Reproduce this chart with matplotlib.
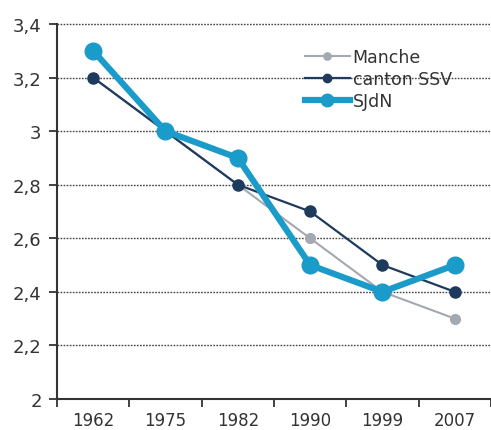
import numpy as np
import matplotlib.pyplot as plt
from matplotlib.ticker import FixedLocator, FuncFormatter

# data
years = ['1962', '1975', '1982', '1990', '1999', '2007']
manche = [3.2, 3.0, 2.8, 2.6, 2.4, 2.3]
canton_ssv = [3.2, 3.0, 2.8, 2.7, 2.5, 2.4]
sjdn = [3.3, 3.0, 2.9, 2.5, 2.4, 2.5]
yticks = [2.0, 2.2, 2.4, 2.6, 2.8, 3.0, 3.2, 3.4]

fig = plt.figure(figsize=(4.91, 4.31), dpi=100)
ax = fig.add_axes([0.116, 0.072, 0.884, 0.870])

x = np.arange(len(years))
ax.plot(x, manche, color='#a3a9b0', lw=1.5, marker='o', ms=7, label='Manche', zorder=3)
ax.plot(x, canton_ssv, color='#1e3a5c', lw=1.6, marker='o', ms=8, label='canton SSV', zorder=4)
ax.plot(x, sjdn, color='#1b9bc9', lw=4.5, marker='o', ms=12, label='SJdN', zorder=5)

ax.set_xlim(-0.5, len(years) - 0.5)
ax.set_ylim(2.0, 3.4)

# dotted gridlines
for v in yticks[1:]:
    ax.axhline(v, color='#444444', lw=1, ls=(0, (1.2, 1)), zorder=1, clip_on=False)

ax.set_yticks(yticks)
ax.yaxis.set_major_formatter(FuncFormatter(lambda v, p: ('%g' % round(v, 1)).replace('.', ',')))
ax.set_xticks(x)
ax.set_xticklabels(years)
ax.xaxis.set_minor_locator(FixedLocator(np.arange(-0.5, len(years), 1)))
ax.tick_params(axis='x', which='major', length=0, pad=9, labelsize=12, colors='#333333')
ax.tick_params(axis='x', which='minor', length=6, width=1.3, direction='out', color='#333333')
ax.tick_params(axis='y', length=6, width=1.3, pad=5, labelsize=13, colors='#333333')

for s in ['top', 'right']:
    ax.spines[s].set_visible(False)
for s in ['left', 'bottom']:
    ax.spines[s].set_color('#333333')
    ax.spines[s].set_linewidth(1.5)

ax.legend(loc='upper left', bbox_to_anchor=(0.555, 0.955), frameon=False, fontsize=12.5,
          handlelength=2.6, handletextpad=0.15, labelspacing=0.25, borderaxespad=0,
          markerscale=0.75, labelcolor='#333333')

fig.savefig('out.png', dpi=100)
